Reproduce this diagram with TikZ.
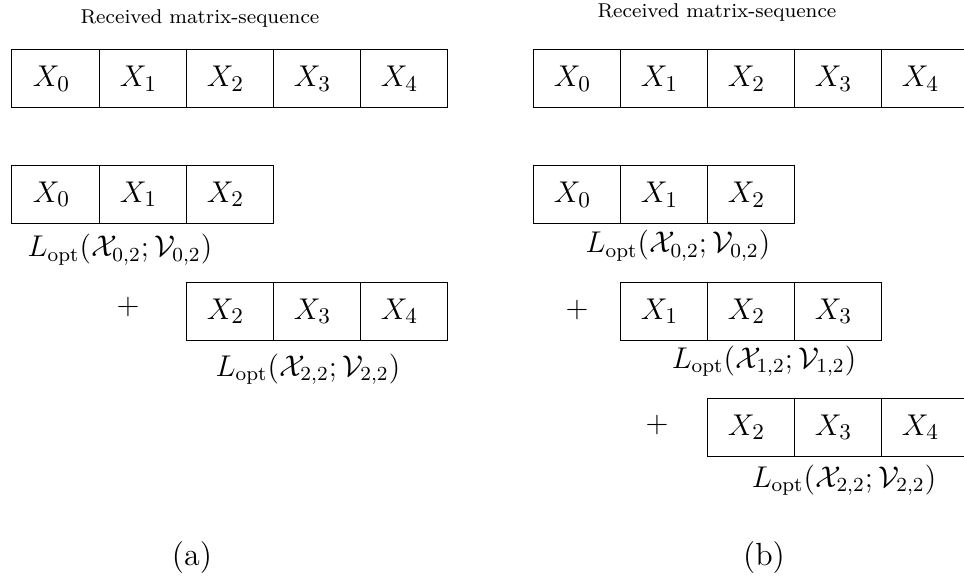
\documentclass[tikz,border=0pt]{standalone}
\begin{document}
\begin{tikzpicture}[x=0.4pt,y=-0.4pt,
  cell/.style={draw,line width=0.4pt,rectangle,inner sep=0pt,minimum width=34.8pt,minimum height=23.2pt,
    font=\fontsize{13}{15}\selectfont,
    label={[inner sep=0pt,xshift=-1.6pt,font=\fontsize{13}{15}\selectfont]center:#1}},
  lbl/.style={anchor=base,inner sep=0pt,font=\fontsize{12}{14}\selectfont},
  ttl/.style={anchor=base,inner sep=0pt,font=\footnotesize},
  plussign/.style={inner sep=0pt,font=\fontsize{13}{15}\selectfont},
  subcap/.style={anchor=base,inner sep=0pt,font=\fontsize{12.8}{15}\selectfont}]
\path[use as bounding box,clip] (0,0) rectangle (964,578);
% ---------- panel (a) ----------
\node[ttl] (ta) at (200,24) {Received matrix-sequence};
\foreach \k in {0,1,2,3,4}
  \node[cell={$X_{\k}$}] (a1c\k) at ({55.5+87*\k},79) {};
\foreach \k in {0,1,2}
  \node[cell={$X_{\k}$}] (a2c\k) at ({55.5+87*\k},194.5) {};
\node[lbl] (la2) at (120,257) {$L_{\mathrm{opt}}(\mathcal{X}_{0,2};\mathcal{V}_{0,2})$};
\node[plussign] (pa3) at (128,307) {$+$};
\foreach \k/\v in {0/2,1/3,2/4}
  \node[cell={$X_{\v}$}] (a3c\k) at ({229.5+87*\k},311.5) {};
\node[lbl] (la3) at (308,376) {$L_{\mathrm{opt}}(\mathcal{X}_{2,2};\mathcal{V}_{2,2})$};
\node[subcap] (capa) at (192,565) {(a)};
% ---------- panel (b) ----------
\node[ttl] (tb) at (717,18) {Received matrix-sequence};
\foreach \k in {0,1,2,3,4}
  \node[cell={$X_{\k}$}] (b1c\k) at ({576.5+87*\k},79) {};
\foreach \k in {0,1,2}
  \node[cell={$X_{\k}$}] (b2c\k) at ({576.5+87*\k},195) {};
\node[lbl] (lb2) at (678,253) {$L_{\mathrm{opt}}(\mathcal{X}_{0,2};\mathcal{V}_{0,2})$};
\node[plussign] (pb3) at (577,310) {$+$};
\foreach \k/\v in {0/1,1/2,2/3}
  \node[cell={$X_{\v}$}] (b3c\k) at ({663.5+87*\k},311.5) {};
\node[lbl] (lb3) at (764,368) {$L_{\mathrm{opt}}(\mathcal{X}_{1,2};\mathcal{V}_{1,2})$};
\node[plussign] (pb4) at (657,425) {$+$};
\foreach \k/\v in {0/2,1/3,2/4}
  \node[cell={$X_{\v}$}] (b4c\k) at ({750.5+87*\k},427) {};
\node[lbl] (lb4) at (844,487) {$L_{\mathrm{opt}}(\mathcal{X}_{2,2};\mathcal{V}_{2,2})$};
\node[subcap] (capb) at (764,565) {(b)};
\end{tikzpicture}
\end{document}
